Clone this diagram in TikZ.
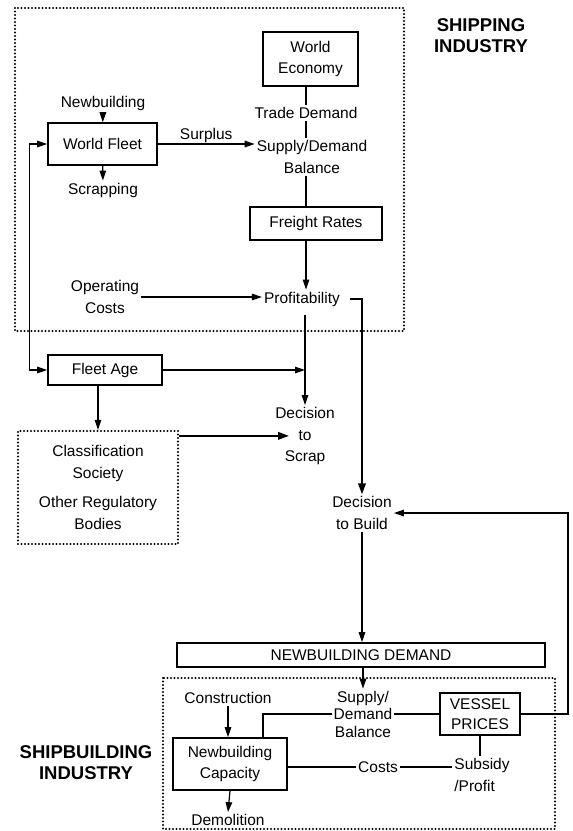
\documentclass[tikz,border=0pt]{standalone}
\usepackage{fontspec}
\setmainfont{Liberation Sans}
\usetikzlibrary{arrows.meta}
\usetikzlibrary{positioning}
\tikzset{blockbox/.style={draw, line width=1.6pt, inner sep=2pt, align=center},
        dotframe/.style={line width=2.3pt, dash pattern=on 0pt off 3.5pt, line cap=round},
        txt/.style={align=center, inner sep=2pt},
        industry/.style={align=center, font=\fontsize{18.5}{21}\selectfont\bfseries},
        link/.style={line width=1.2pt},
        flow/.style={line width=1.2pt, -{Triangle[length=10pt,width=6.5pt]}},
        heavyflow/.style={line width=2pt, -{Triangle[length=11pt,width=7.5pt]}},
        twoway/.style={line width=1.2pt, {Triangle[length=10pt,width=6.5pt]}-{Triangle[length=10pt,width=6.5pt]}},
}

\begin{document}
\begin{tikzpicture}[x=1pt, y=-1pt, every node/.style={font=\fontsize{15.5}{21.5}\selectfont}]
      \useasboundingbox (0,0) rectangle (573,831);
      % SHIPPING INDUSTRY
      \draw[dotframe] (15,8) rectangle (404,331);
      \node[industry] (shipind) at (481,36) {SHIPPING\\INDUSTRY};
      \node[blockbox, minimum width=95, minimum height=54] (econ) at (310.5,59) {World\\Economy};
      \node[txt] (trade) at (306,113) {Trade Demand};
      \node[txt] (balance) at (312,157) {Supply/Demand\\Balance};
      \node[blockbox, minimum width=132, minimum height=33] (freight) at (316,223.5) {Freight Rates};
      \node[txt] (profit) at (302,299) {Profitability};
      \node[blockbox, minimum width=109, minimum height=42] (fleet) at (102.5,144) {World Fleet};
      \node[txt] (newb) at (103,103) {Newbuilding};
      \node[txt] (scrap) at (103,190) {Scrapping};
      \node[txt] (opcost) at (105,297) {Operating\\Costs};

      \draw[link] (econ.south -| trade) -- (trade.north);
      \draw[link] (trade.south) -- (trade.south |- balance.north);
      \draw[link] (balance.south -| trade) -- (freight.north -| trade);
      \draw[flow] (freight.south -| trade) -- (profit.north -| trade);
      \draw[flow] (newb) -- (fleet);
      \draw[flow] (fleet) -- (scrap);
      \draw[flow] (fleet.east) -- (fleet.east -| balance.west) node[midway, above, inner sep=1pt] (surplus) {Surplus};
      \draw[flow] (opcost.east) -- (opcost.east -| profit.west);

      % FLEET AGE AND SCRAPPING
      \node[blockbox, minimum width=114, minimum height=30] (age) at (105,370) {Fleet Age};
      \node[txt] (scrapdec) at (305,436) {Decision\\to\\Scrap};
      \node[dotframe, draw, align=center, minimum width=160, minimum height=113] (class) at (98,487.5) {Classification\\Society\\[8pt]Other Regulatory\\Bodies};
      \coordinate (scrapin) at ([xshift=-16]scrapdec.center);

      \draw[twoway] (fleet.west) -- ++(-18,0) |- (age.west);
      \draw[flow] (age.east) -- (age.east -| scrapdec);
      \draw[flow] ([yshift=-7]profit.south -| scrapdec) -- (scrapdec.north);
      \draw[flow] (age.south -| class) -- (class.north);
      \draw[heavyflow] ([yshift=-6]class.north east) -- ([yshift=-6]class.north east -| scrapin);

      % DECISION TO BUILD
      \node[txt] (build) at (362,513) {Decision\\to Build};
      \node[blockbox, minimum width=368, minimum height=24] (demand) at (361,655) {NEWBUILDING DEMAND};
      \draw[heavyflow] ([xshift=8]profit.east) -| (build.north);
      \draw[flow] (build.south) -- (build.south |- demand.north);

      % SHIPBUILDING INDUSTRY
      \draw[dotframe] (163,678) rectangle (555,829);
      \node[industry] (buildind) at (86,763) {SHIPBUILDING\\INDUSTRY};
      \node[txt, font=\fontsize{15.5}{17.5}\selectfont] (balance2) at (363,714) {Supply/\\Demand\\Balance};
      \node[blockbox, line width=2pt, minimum width=80, minimum height=42, font=\fontsize{15.5}{20}\selectfont] (vessel) at (480,714) {VESSEL\\PRICES};
      \node[blockbox, minimum width=114, minimum height=52] (nbcap) at (230,764) {Newbuilding\\Capacity};
      \node[txt] (constr) at (228,698) {Construction};
      \node[txt] (demol) at (228,820) {Demolition};
      \node[txt] (costs) at (378,767) {Costs};
      \node[txt, align=left] (subsidy) at (482,775) {Subsidy\\/Profit};

      \draw[flow] (demand.south -| balance2) -- (balance2.north);
      \draw[link] (balance2.east) -- (vessel.west);
      \draw[link] (balance2.west) -| ([xshift=33]nbcap.north);
      \draw[flow] (constr.south) -- (constr.south |- nbcap.north);
      \draw[flow] (nbcap.south) -- (demol.north);
      \draw[link] (nbcap.east |- costs) -- (costs.west);
      \draw[link] (costs.east) -- (costs.east -| subsidy.west);
      \draw[link] (vessel.south) -- (vessel.south |- subsidy.north);
      \draw[flow] (vessel.east) -- ++(47,0) |- (build.east);
\end{tikzpicture}
\end{document}
